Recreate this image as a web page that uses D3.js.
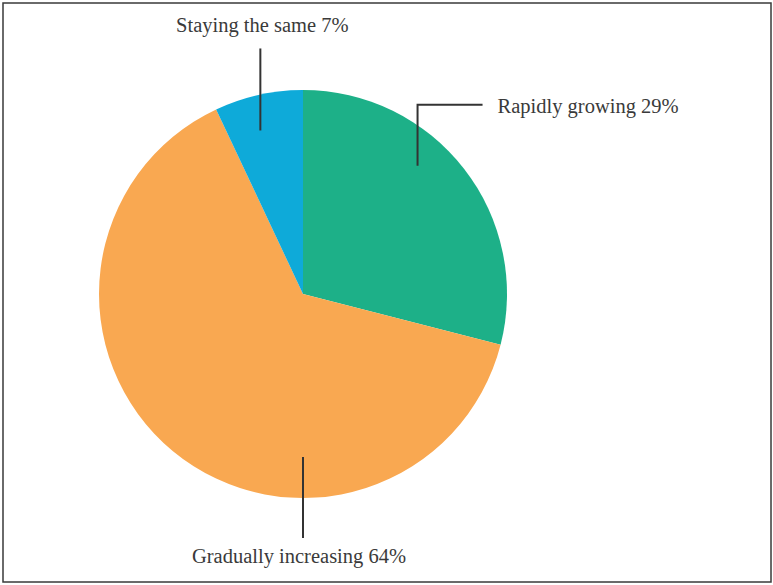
<!DOCTYPE html>
<html>
<head>
<meta charset="utf-8">
<script src="https://cdn.jsdelivr.net/npm/d3@7"></script>
<style>
  html, body { margin: 0; padding: 0; background: #fff; }
  svg { display: block; }
</style>
</head>
<body>
<div id="chart"></div>
<script>
const categories = ["Rapidly growing", "Gradually increasing", "Staying the same"];
const shares = [29, 64, 7];
const colors = ["#1db088", "#f9a851", "#0eaad9"];

const width = 773;
const height = 585;
const cx = 303;
const cy = 294;
const radius = 204;

const svg = d3.select("#chart").append("svg")
    .attr("width", width)
    .attr("height", height)
    .attr("viewBox", [0, 0, width, height]);

// outer frame
svg.append("rect")
    .attr("x", 3).attr("y", 3)
    .attr("width", 768).attr("height", 579)
    .attr("fill", "none")
    .attr("stroke", "#3a3a3a")
    .attr("stroke-width", 1.5);

const data = categories.map((c, i) => ({name: c, value: shares[i], color: colors[i]}));

const pie = d3.pie().sort(null).value(d => d.value);
const arc = d3.arc().innerRadius(0).outerRadius(radius);
const arcs = pie(data);

const g = svg.append("g").attr("transform", `translate(${cx},${cy})`);

g.selectAll("path")
    .data(arcs)
    .join("path")
    .attr("d", arc)
    .attr("fill", d => d.data.color);

// leader lines: anchor at an angle fraction inside each slice
const pt = (angle, r) => [Math.sin(angle) * r, -Math.cos(angle) * r];
const at = (a, f) => a.startAngle + f * (a.endAngle - a.startAngle);

const lines = g.append("g")
    .attr("fill", "none")
    .attr("stroke", "#333")
    .attr("stroke-width", 2);

const font = "'Liberation Serif', 'DejaVu Serif', serif";
const labels = svg.append("g")
    .attr("font-family", font)
    .attr("font-size", 20.5)
    .attr("fill", "#3a3a3a");

// Rapidly growing: elbow up and right
{
  const a = arcs[0];
  const [x0, y0] = pt(at(a, 0.4), 172);
  const yTop = y0 - 61;
  lines.append("path").attr("d", `M${x0},${y0}V${yTop}H${x0 + 65}`);
  labels.append("text")
      .attr("x", cx + x0 + 80).attr("y", cy + yTop + 8)
      .text(`${a.data.name} ${a.data.value}%`);
}

// Gradually increasing: straight down
{
  const a = arcs[1];
  const [x0, y0] = pt(Math.PI, 163);
  lines.append("path").attr("d", `M${x0},${y0}V${y0 + 81}`);
  labels.append("text")
      .attr("x", cx + x0 - 4).attr("y", cy + y0 + 106)
      .attr("text-anchor", "middle")
      .text(`${a.data.name} ${a.data.value}%`);
}

// Staying the same: straight up
{
  const a = arcs[2];
  const [x0, y0] = pt(at(a, 0.42), 169);
  lines.append("path").attr("d", `M${x0},${y0}V${y0 - 82}`);
  labels.append("text")
      .attr("x", cx + x0 + 2).attr("y", cy + y0 - 98)
      .attr("text-anchor", "middle")
      .text(`${a.data.name} ${a.data.value}%`);
}
</script>
</body>
</html>
